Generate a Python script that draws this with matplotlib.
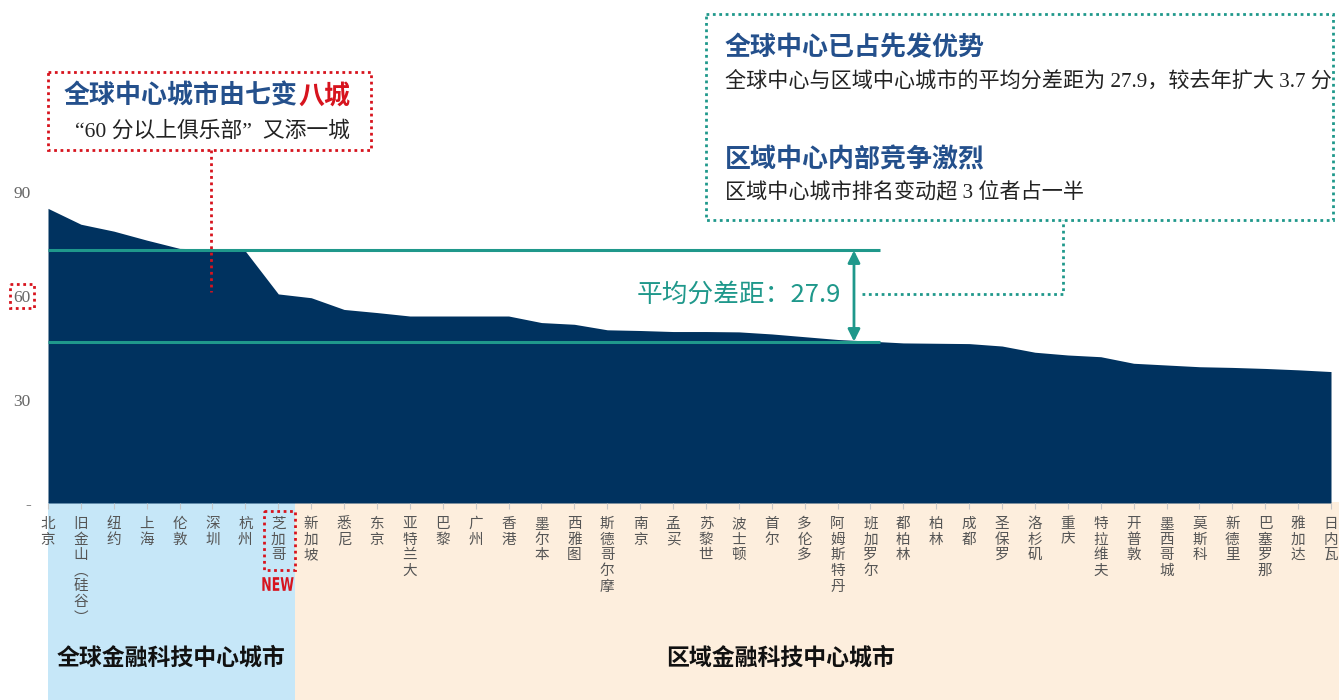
import matplotlib.pyplot as plt
from matplotlib.patches import Rectangle, PathPatch
from matplotlib.textpath import TextPath
from matplotlib.font_manager import FontProperties
from matplotlib.transforms import Affine2D

plt.rcParams['font.family'] = ['Noto Sans CJK SC', 'DejaVu Sans']

# --- data ---
cities = ['北京', '旧金山(硅谷)', '纽约', '上海', '伦敦', '深圳', '杭州', '芝加哥',
          '新加坡', '悉尼', '东京', '亚特兰大', '巴黎', '广州', '香港', '墨尔本',
          '西雅图', '斯德哥尔摩', '南京', '孟买', '苏黎世', '波士顿', '首尔', '多伦多',
          '阿姆斯特丹', '班加罗尔', '都柏林', '柏林', '成都', '圣保罗', '洛杉矶', '重庆',
          '特拉维夫', '开普敦', '墨西哥城', '莫斯科', '新德里', '巴塞罗那', '雅加达', '日内瓦']
scores = [85.4, 80.8, 78.8, 76.2, 73.8, 73.6, 73.0, 60.6,
          59.5, 56.1, 55.2, 54.2, 54.2, 54.2, 54.2, 52.3,
          51.8, 50.2, 50.0, 49.7, 49.7, 49.6, 49.0, 48.2,
          47.4, 46.9, 46.4, 46.3, 46.2, 45.5, 43.7, 42.9,
          42.4, 40.5, 40.0, 39.5, 39.3, 39.0, 38.6, 38.1]
n_global = 8
global_avg = 73.2
regional_avg = 46.8
gap_label = '平均分差距：27.9'
yticks = [0, 30, 60, 90]
ytick_labels = ['-', '30', '60', '90']

navy = '#00325f'
teal = '#1f988b'
red = '#d7141e'
blue = '#24508c'
W, H = 1339, 700

fig = plt.figure(figsize=(W / 100, H / 100), dpi=100)

# background bands (pixel coords)
bg = fig.add_axes([0, 0, 1, 1], zorder=0)
bg.set_xlim(0, W); bg.set_ylim(H, 0); bg.axis('off')
bg.add_patch(Rectangle((48, 502), 247, 198, color='#c6e7f8', lw=0))
bg.add_patch(Rectangle((295, 502), W - 295, 198, color='#fdeedd', lw=0))
bg.text(171, 658, '全球金融科技中心城市', ha='center', va='center', fontsize=16.5,
        weight='bold', color='#111111')
bg.text(780, 658, '区域金融科技中心城市', ha='center', va='center', fontsize=16.5,
        weight='bold', color='#111111')

# main chart
ax = fig.add_axes([48 / W, (H - 503) / H, 1283 / W, 310.5 / H], zorder=1)
ax.patch.set_alpha(0)
x = list(range(len(cities)))
ax.fill_between(x, scores, color=navy, lw=0)
ax.set_xlim(0, len(cities) - 1)
ax.set_ylim(0, 90)
for s in ax.spines.values():
    s.set_visible(False)

xlabels = ['\n'.join(c.replace('(', '︵').replace(')', '︶')) for c in cities]
ax.set_xticks(x, xlabels, fontsize=10.5, color='#555555', linespacing=1.15)
ax.tick_params(axis='x', length=4, color='#c8c8c8', pad=6)
ax.set_yticks(yticks, ytick_labels)
ax.tick_params(axis='y', length=0, pad=12.5, labelsize=12.5, labelcolor='#666666')
for lbl in ax.get_yticklabels():
    lbl.set_family('Liberation Serif')

x_end = 25.3
ax.hlines([global_avg, regional_avg], 0, x_end, color=teal, lw=2.2)
x_arrow = 24.5
ax.annotate('', xy=(x_arrow, regional_avg), xytext=(x_arrow, global_avg),
            arrowprops=dict(arrowstyle='<|-|>', color=teal, lw=2, mutation_scale=18,
                            shrinkA=0, shrinkB=0))
ax.text(24.1, (global_avg + regional_avg) / 2 + 0.3, gap_label, ha='right', va='center',
        color=teal, fontsize=18.5)

# annotation overlay (pixel coords)
top = fig.add_axes([0, 0, 1, 1], zorder=2)
top.set_xlim(0, W); top.set_ylim(H, 0); top.axis('off')
top.patch.set_alpha(0)

dot = (0, (1, 1.3))
top.add_patch(Rectangle((48, 72), 323, 78, fill=False, ec=red, lw=2, ls=dot))
top.plot([211, 211], [150, 292], color=red, lw=2, ls=dot)
top.add_patch(Rectangle((10, 284), 24, 24, fill=False, ec=red, lw=2, ls=dot))
top.add_patch(Rectangle((264, 511), 31, 59, fill=False, ec=red, lw=2, ls=dot))

# condensed "NEW" badge: squeeze a text path horizontally
tp = TextPath((0, 0), 'NEW', size=25, prop=FontProperties(family='DejaVu Sans', weight='bold'))
ext = tp.get_extents()
sx, sy = 0.5, 0.75
cx, cy = 278, 584
tr = (Affine2D().translate(-(ext.x0 + ext.x1) / 2, -(ext.y0 + ext.y1) / 2)
      .scale(sx, -sy).translate(cx, cy))
top.add_patch(PathPatch(tr.transform_path(tp), fc=red, ec='none'))

top.add_patch(Rectangle((706, 14), 627, 206, fill=False, ec=teal, lw=2, ls=dot))
top.plot([862, 1063, 1063], [294, 294, 220], color=teal, lw=2, ls=dot)

t1 = top.text(64, 96, '全球中心城市由七变', ha='left', va='center', fontsize=18.7,
              weight='bold', color=blue)
fig.canvas.draw()
bb = t1.get_window_extent()
top.text(bb.x1, 96, '八城', ha='left', va='center', fontsize=18.7, weight='bold', color=red)
serif = ['Liberation Serif', 'Noto Sans CJK SC']
top.text(75, 131, '“60 分以上俱乐部”  又添一城', ha='left', va='center', fontsize=15.7,
         color='#222222', family=serif)

top.text(725, 48, '全球中心已占先发优势', ha='left', va='center', fontsize=18.7,
         weight='bold', color=blue)
top.text(725, 82, '全球中心与区域中心城市的平均分差距为 27.9，较去年扩大 3.7 分', ha='left',
         va='center', fontsize=15.2, color='#222222', family=serif)
top.text(725, 160, '区域中心内部竞争激烈', ha='left', va='center', fontsize=18.7,
         weight='bold', color=blue)
top.text(725, 193, '区域中心城市排名变动超 3 位者占一半', ha='left', va='center',
         fontsize=15.2, color='#222222', family=serif)

fig.savefig('out.png', dpi=100)
